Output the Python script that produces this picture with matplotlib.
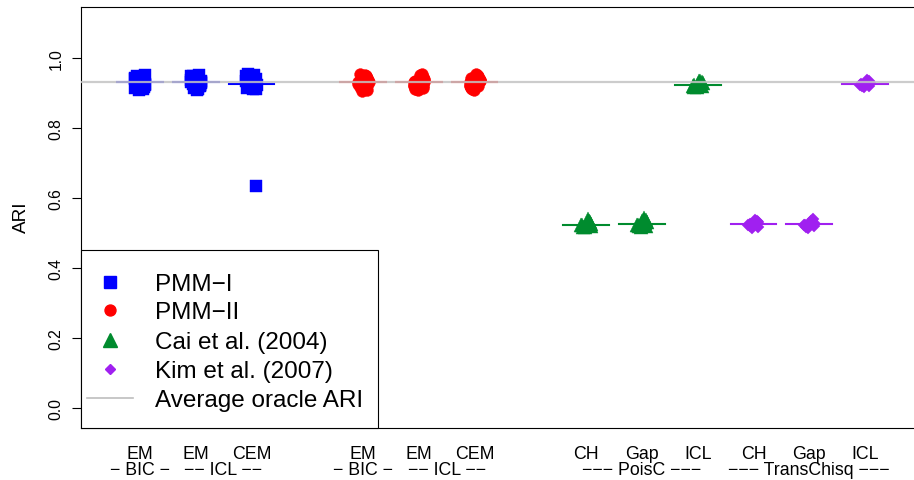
import numpy as np
import matplotlib
matplotlib.use("Agg")
import matplotlib.pyplot as plt
from matplotlib.patches import Rectangle
from matplotlib.lines import Line2D

plt.rcParams["font.family"] = ["Liberation Sans", "DejaVu Sans"]

# x positions of the twelve method columns
positions = [1, 2, 3, 5, 6, 7, 9, 10, 11, 12, 13, 14]
top_labels = ["EM", "EM", "CEM", "EM", "EM", "CEM", "CH", "Gap", "ICL", "CH", "Gap", "ICL"]
group_labels = ["\u2212 BIC \u2212", "\u2212\u2212 ICL \u2212\u2212",
                "\u2212 BIC \u2212", "\u2212\u2212 ICL \u2212\u2212",
                "\u2212\u2212\u2212 PoisC \u2212\u2212\u2212",
                "\u2212\u2212\u2212 TransChisq \u2212\u2212\u2212"]
group_pos = [1, 2.5, 5, 6.5, 10, 13]

oracle_ari = 0.931

# ARI per replicate
pmm1_em_bic = [0.931, 0.925, 0.938, 0.944, 0.915, 0.952, 0.909, 0.929, 0.935, 0.920, 0.947, 0.931, 0.927,
               0.940, 0.918, 0.933, 0.912, 0.949, 0.923, 0.936, 0.930, 0.943, 0.917, 0.931, 0.926]
pmm1_em_icl = [0.933, 0.921, 0.941, 0.910, 0.950, 0.928, 0.936, 0.917, 0.944, 0.931, 0.925, 0.948, 0.912,
               0.939, 0.930, 0.919, 0.953, 0.927, 0.934, 0.914, 0.942, 0.931, 0.923, 0.946, 0.932]
pmm1_cem_icl = [0.926, 0.918, 0.955, 0.911, 0.935, 0.635, 0.946, 0.914, 0.930, 0.920, 0.940, 0.924, 0.951,
                0.916, 0.922, 0.928, 0.926, 0.943, 0.912, 0.933, 0.921, 0.949, 0.917, 0.937, 0.925]
pmm2_em_bic = [0.931, 0.944, 0.918, 0.953, 0.926, 0.937, 0.912, 0.948, 0.929, 0.934, 0.921, 0.940, 0.915,
               0.931, 0.924, 0.907, 0.950, 0.928, 0.936, 0.919, 0.945, 0.933, 0.910, 0.955, 0.931]
pmm2_em_icl = [0.930, 0.946, 0.913, 0.951, 0.925, 0.938, 0.919, 0.942, 0.932, 0.927, 0.916, 0.935, 0.949,
               0.922, 0.931, 0.908, 0.954, 0.929, 0.940, 0.911, 0.944, 0.933, 0.920, 0.936, 0.931]
pmm2_cem_icl = [0.932, 0.950, 0.914, 0.944, 0.921, 0.937, 0.926, 0.953, 0.918, 0.930, 0.941, 0.911, 0.934,
                0.924, 0.931, 0.908, 0.947, 0.928, 0.939, 0.916, 0.955, 0.931, 0.922, 0.943, 0.935]
cai_ch = [0.525, 0.532, 0.519, 0.541, 0.523, 0.528, 0.517, 0.536, 0.524, 0.530, 0.521]
cai_gap = [0.526, 0.538, 0.520, 0.543, 0.524, 0.531, 0.518, 0.529, 0.525, 0.535, 0.522]
cai_icl = [0.924, 0.931, 0.919, 0.936, 0.922, 0.928, 0.918, 0.934, 0.923, 0.926, 0.921]
kim_ch = [0.527, 0.535, 0.520, 0.538, 0.524, 0.531, 0.515, 0.529, 0.526, 0.533, 0.518]
kim_gap = [0.527, 0.540, 0.519, 0.534, 0.525, 0.530, 0.514, 0.536, 0.523, 0.528, 0.521]
kim_icl = [0.927, 0.935, 0.920, 0.938, 0.924, 0.930, 0.918, 0.932, 0.926, 0.929, 0.922]

series = [pmm1_em_bic, pmm1_em_icl, pmm1_cem_icl,
          pmm2_em_bic, pmm2_em_icl, pmm2_cem_icl,
          cai_ch, cai_gap, cai_icl,
          kim_ch, kim_gap, kim_icl]

methods = ["PMM\u2212I", "PMM\u2212II", "Cai et al. (2004)", "Kim et al. (2007)"]
colors = ["#0000FF", "#FF0000", "#008B2E", "#A020F0"]
markers = ["s", "o", "^", "D"]
msizes = [8.0, 8.5, 9.5, 6.0]

# fixed horizontal spread so overlapping replicates stay visible
spread = [0.0, 0.07, -0.06, 0.03, -0.09, 0.09, -0.02, 0.05, -0.07, 0.01, 0.08, -0.04, 0.04,
          -0.08, 0.02, -0.01, 0.06, -0.05, 0.09, -0.03, 0.03, -0.09, 0.07, -0.06, 0.1]

W, H = 914, 481
fig = plt.figure(figsize=(W / 100, H / 100), dpi=100)


def fx(px):
    return px / W


def fy(py):
    return 1 - py / H


ax_left, ax_right, ax_top, ax_bot = 81.3, 920.8, 8.3, 428.7
ax = fig.add_axes([fx(ax_left), fy(ax_bot), fx(ax_right - ax_left), (ax_bot - ax_top) / H])
ax.set_xlim(-0.05, 15.0)
ax.set_ylim(-0.0554, 1.1457)

for i, (pos, vals) in enumerate(zip(positions, series)):
    g = i // 3
    xs = [pos + spread[k % len(spread)] for k in range(len(vals))]
    ax.plot(xs, vals, linestyle="none", marker=markers[g], ms=msizes[g],
            color=colors[g], mec=colors[g], mew=0.3, zorder=2)
    med = np.median(vals)
    ax.plot([pos - 0.41, pos + 0.41], [med, med], color=colors[g], lw=1.5, zorder=3)

ax.axhline(oracle_ari, color="#c4c4c4", lw=1.6, alpha=0.85, zorder=4)

# axes styling (R-like)
for side in ["left", "top", "bottom", "right"]:
    ax.spines[side].set_linewidth(0.8)
ax.set_xticks([])
yt = [0.0, 0.2, 0.4, 0.6, 0.8, 1.0]
ax.set_yticks(yt)
ax.set_yticklabels([f"{v:.1f}" for v in yt], rotation=90, va="center", ha="center", fontsize=11.3)
ax.tick_params(axis="y", direction="out", length=6.8, width=0.8, pad=11.3)

fig.text(fx(21.7), fy(217.5), "ARI", rotation=90, ha="center", va="center", fontsize=13.7)

xtr = ax.get_xaxis_transform()
row1 = (ax_bot - 459.3) / (ax_bot - ax_top)
row2 = (ax_bot - 475.0) / (ax_bot - ax_top)
for pos, lab in zip(positions, top_labels):
    ax.text(pos, row1, lab, transform=xtr, ha="center", va="baseline", fontsize=12.8)
for pos, lab in zip(group_pos, group_labels):
    ax.text(pos, row2, lab, transform=xtr, ha="center", va="baseline", fontsize=12.8)

# legend drawn by hand to follow the R layout
fig.patches.append(Rectangle((fx(ax_left), fy(ax_bot)), fx(378 - ax_left), (ax_bot - 251) / H,
                             transform=fig.transFigure, facecolor="white",
                             edgecolor="black", lw=0.8, zorder=5))
leg_rows = [283, 311, 341, 370, 399]
leg_ms = [8.6, 7.9, 10.0, 5.1]
for k in range(4):
    fig.lines.append(Line2D([fx(110)], [fy(leg_rows[k])], transform=fig.transFigure,
                            marker=markers[k], ms=leg_ms[k], color=colors[k],
                            linestyle="none", zorder=6))
fig.lines.append(Line2D([fx(87), fx(133)], [fy(399), fy(399)], transform=fig.transFigure,
                        color="#bebebe", lw=1.2, zorder=6))
for k, lab in enumerate(methods + ["Average oracle ARI"]):
    fig.text(fx(155), fy(leg_rows[k] + 8.5), lab, ha="left", va="baseline",
             fontsize=17.5, zorder=7)

fig.savefig("out.png", dpi=100)
